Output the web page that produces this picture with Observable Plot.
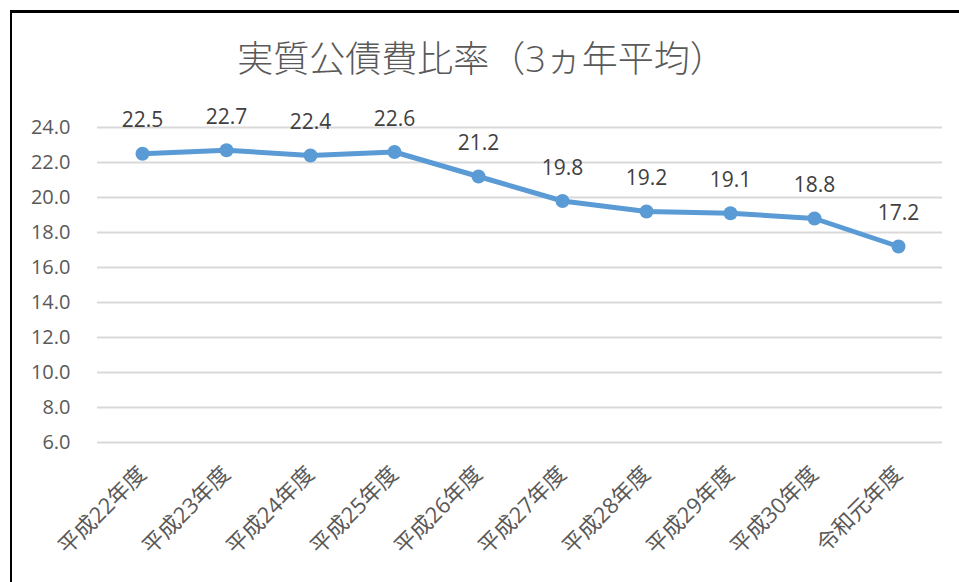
<!DOCTYPE html>
<html><head><meta charset="utf-8">
<script src="https://cdn.jsdelivr.net/npm/d3@7"></script>
<script src="https://cdn.jsdelivr.net/npm/@observablehq/plot@0.6"></script>
<style>
html,body{margin:0;padding:0;background:#fff;}
#wrap{position:relative;width:959px;height:582px;overflow:hidden;font-family:"Noto Sans CJK JP",sans-serif;}
#frame{position:absolute;left:10px;top:10px;width:1000px;height:1000px;border-left:2px solid #000;border-top:3px solid #000;box-sizing:border-box;pointer-events:none;}
#title{position:absolute;left:0;width:963px;top:35px;text-align:center;font-size:36px;color:#595959;line-height:48px;font-family:"Open Sans","Noto Sans CJK JP",sans-serif;font-weight:300;}
#chart{position:absolute;left:0;top:0;}
</style></head>
<body><div id="wrap"><div id="chart"></div><div id="title">実質公債費比率（3ヵ年平均）</div><div id="frame"></div></div>
<script>
const categories = ["平成22年度","平成23年度","平成24年度","平成25年度","平成26年度","平成27年度","平成28年度","平成29年度","平成30年度","令和元年度"];
const values = [22.5,22.7,22.4,22.6,21.2,19.8,19.2,19.1,18.8,17.2];
const yTicks = [6,8,10,12,14,16,18,20,22,24];
const data = categories.map((c,i)=>({cat:c, v:values[i]}));
const FONT = '"Open Sans","Noto Sans CJK JP",sans-serif';
const chart = Plot.plot({
  width:959, height:582,
  marginLeft:97, marginRight:17, marginTop:127, marginBottom:140,
  style:{fontFamily:FONT, background:"transparent"},
  x:{type:"band", domain:categories, padding:0, axis:null},
  y:{domain:[6,24], axis:null},
  marks:[
    Plot.gridY(yTicks,{stroke:"#d9d9d9", strokeOpacity:1, strokeWidth:2}),
    Plot.text(yTicks,{y:d=>d, text:d=>d.toFixed(1), frameAnchor:"left", textAnchor:"end", dx:-27, fontSize:20, fill:"#595959"}),
    Plot.text(categories,{x:d=>d, text:d=>d, frameAnchor:"bottom", rotate:-45, textAnchor:"end", dx:5, dy:33, fontSize:22, fill:"#595959"}),
    Plot.line(data,{x:"cat", y:"v", stroke:"#5b9bd5", strokeWidth:5}),
    Plot.dot(data,{x:"cat", y:"v", fill:"#5b9bd5", r:7}),
    Plot.text(data,{x:"cat", y:"v", text:d=>d.v.toFixed(1), dy:-33, fontSize:21, fill:"#404040"})
  ]
});
document.getElementById("chart").appendChild(chart);
</script></body></html>
